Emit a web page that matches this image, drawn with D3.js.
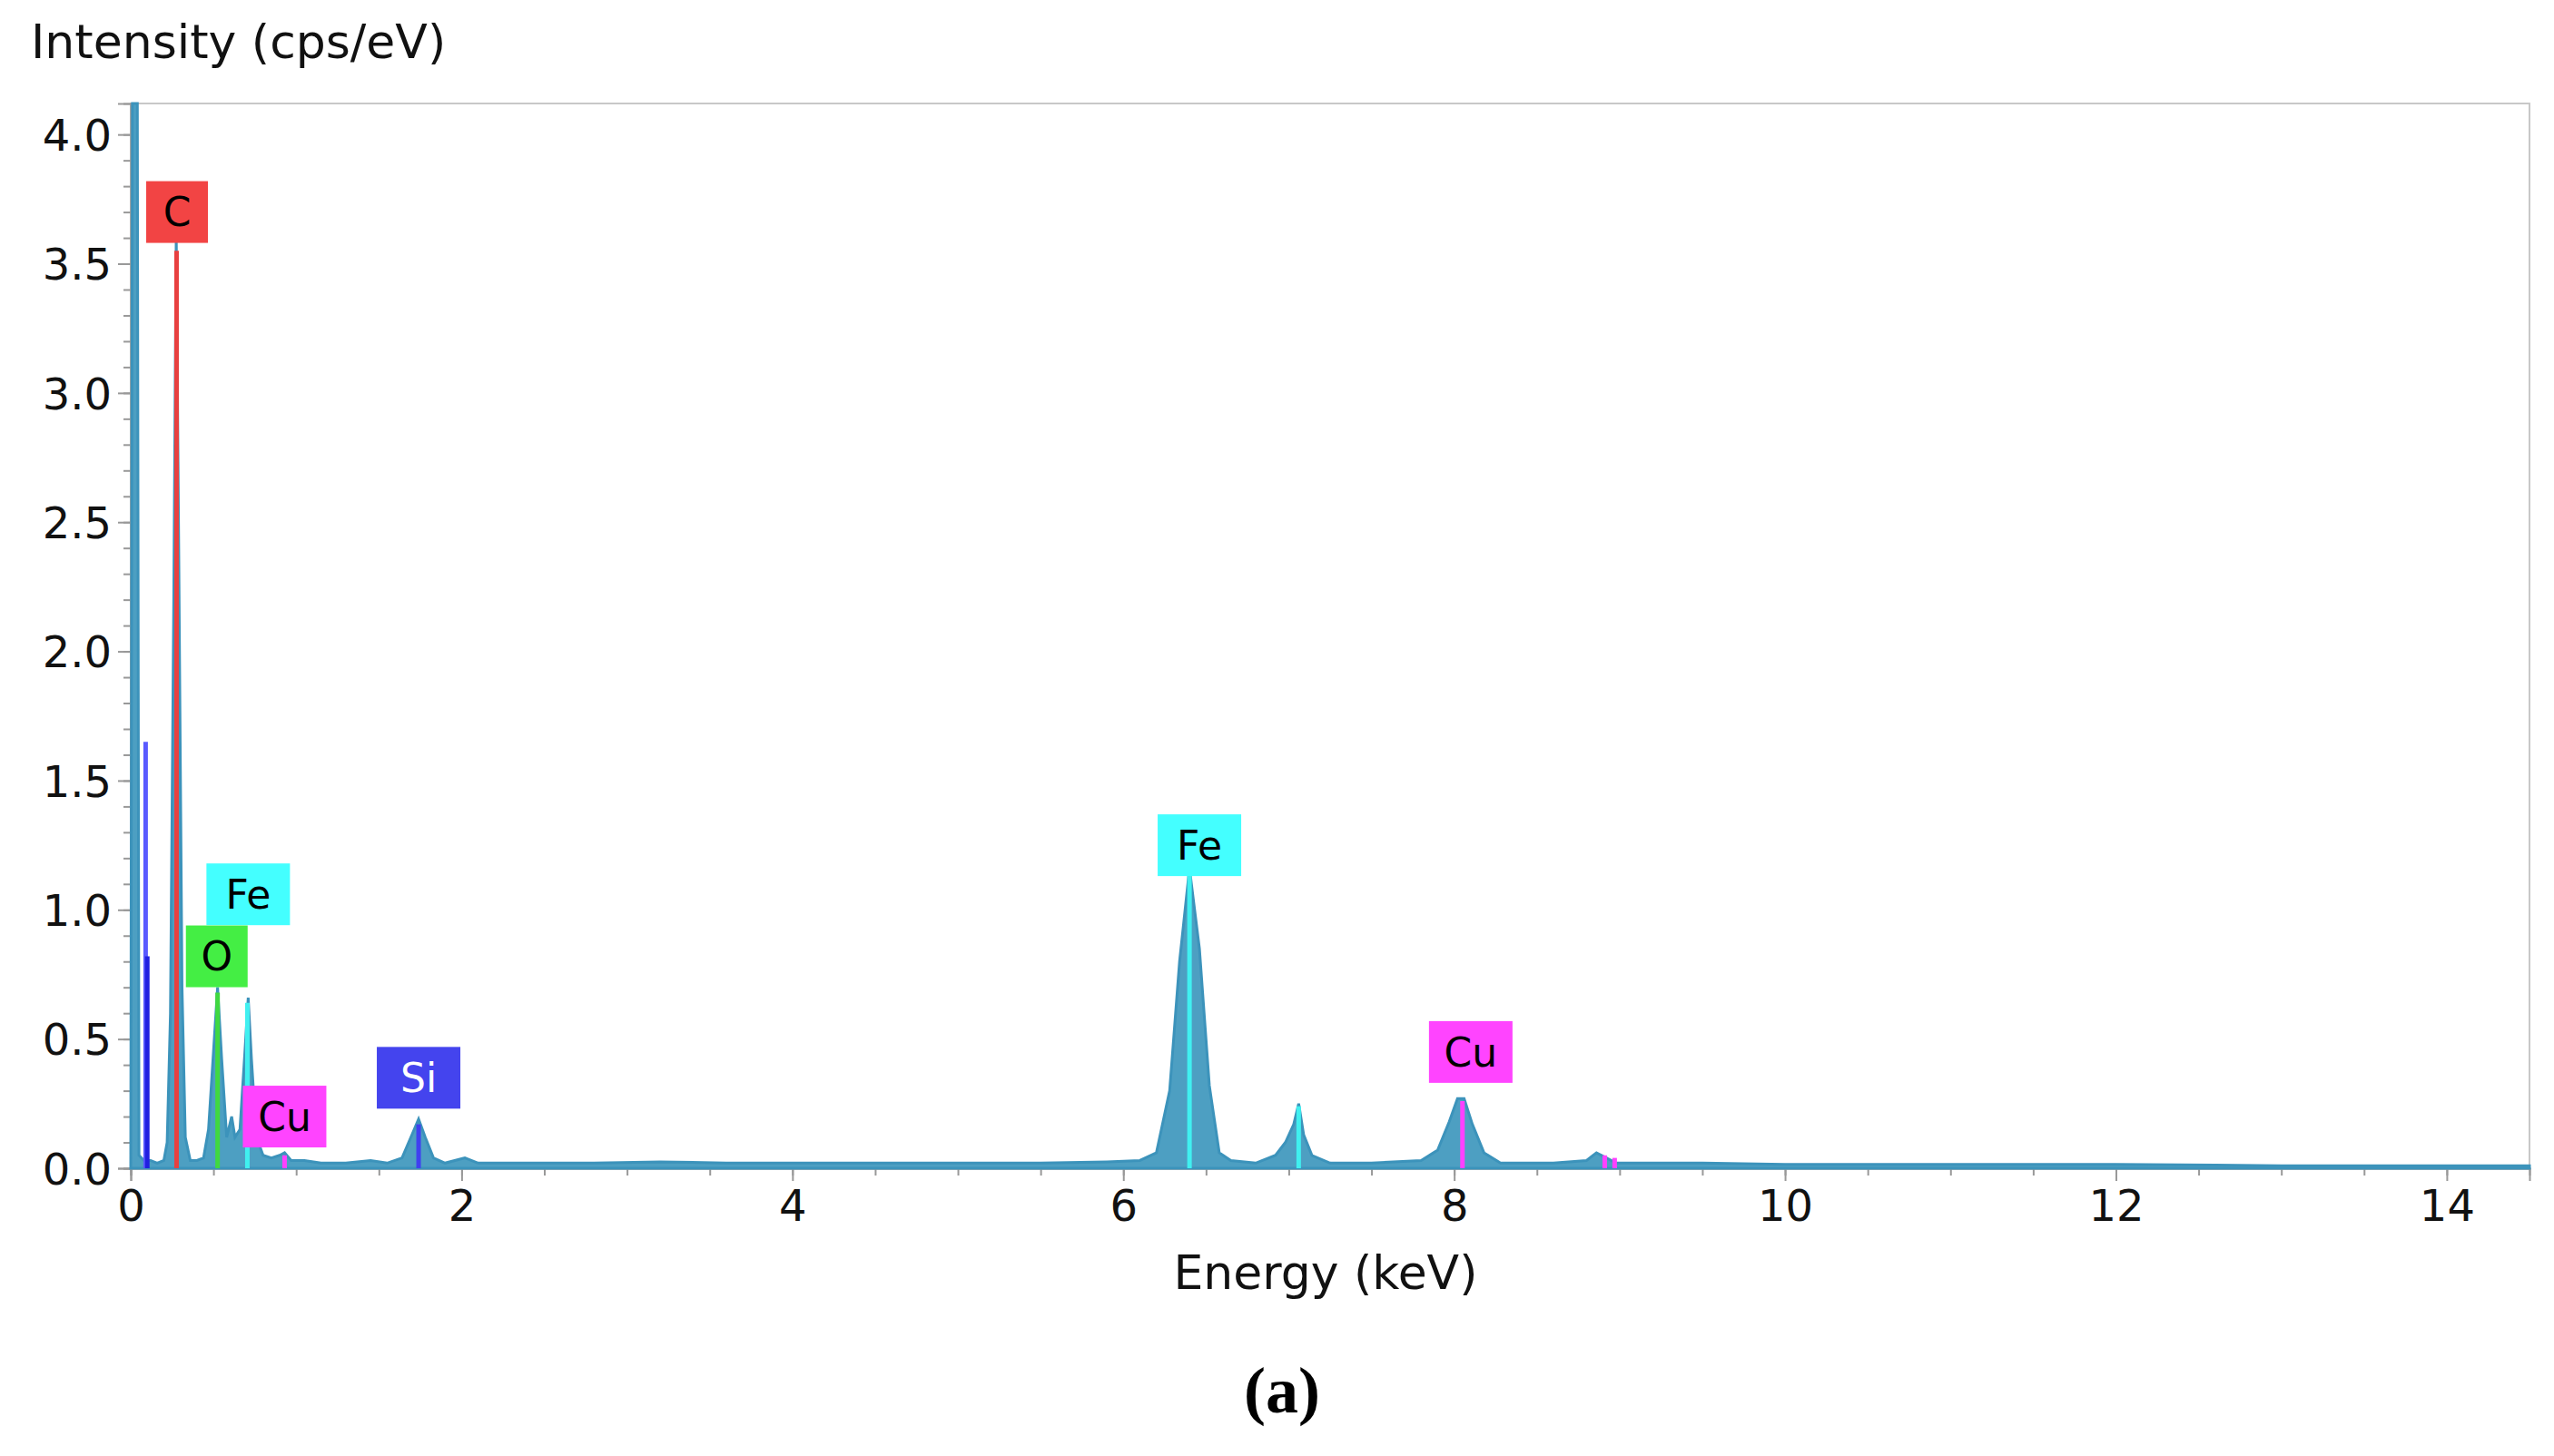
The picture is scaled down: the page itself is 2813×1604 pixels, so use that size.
<!DOCTYPE html>
<html><head><meta charset="utf-8">
<script src="https://cdn.jsdelivr.net/npm/d3@7"></script>
<style>body{margin:0;background:#fff}svg{display:block}</style>
</head><body>
<svg id="chart" width="2813" height="1604"></svg>
<script>
// spectrum points [energy keV, intensity cps/eV]
const spectrum = [
  [0.00,0],[0.01,4.12],[0.04,4.12],[0.05,0.05],[0.08,0.03],[0.12,0.03],[0.16,0.02],[0.20,0.03],
  [0.22,0.1],[0.24,0.6],[0.26,2.2],[0.275,3.62],[0.29,2.4],[0.31,0.7],[0.33,0.12],[0.36,0.03],
  [0.40,0.03],[0.44,0.04],[0.47,0.15],[0.50,0.45],[0.525,0.7],[0.55,0.42],[0.58,0.12],[0.61,0.2],
  [0.63,0.12],[0.66,0.15],[0.69,0.45],[0.71,0.66],[0.73,0.42],[0.76,0.12],[0.80,0.05],[0.85,0.04],
  [0.90,0.05],[0.93,0.06],[0.97,0.03],[1.05,0.03],[1.15,0.02],[1.30,0.02],[1.45,0.03],[1.55,0.02],
  [1.64,0.04],[1.70,0.13],[1.74,0.19],[1.78,0.12],[1.83,0.04],[1.90,0.02],[2.02,0.04],[2.10,0.02],
  [2.40,0.02],[2.80,0.02],[3.20,0.025],[3.60,0.02],[4.00,0.02],[4.50,0.02],[5.00,0.02],[5.50,0.02],
  [5.90,0.025],[6.10,0.03],[6.20,0.06],[6.28,0.3],[6.34,0.8],[6.40,1.16],[6.46,0.85],[6.52,0.32],
  [6.58,0.06],[6.65,0.03],[6.80,0.02],[6.92,0.05],[6.98,0.1],[7.03,0.17],[7.06,0.25],[7.09,0.13],
  [7.14,0.05],[7.25,0.02],[7.50,0.02],[7.80,0.03],[7.90,0.07],[7.97,0.18],[8.02,0.27],[8.06,0.27],
  [8.11,0.17],[8.18,0.06],[8.28,0.02],[8.60,0.02],[8.80,0.03],[8.86,0.06],[8.92,0.04],[8.98,0.02],
  [9.50,0.02],[10.0,0.015],[11.0,0.015],[12.0,0.015],[12.6,0.012],[13.0,0.01],[14.0,0.01],[14.5,0.01]
];
// element marker lines [element, energy, height, colour]
const markers = [
  ['Cu',0.09,1.65,'#5a5aff'],['Cu',0.10,0.82,'#2020e0'],
  ['C',0.277,3.55,'#e84040'],['O',0.525,0.68,'#40d840'],['Fe',0.705,0.64,'#40f0f0'],
  ['Cu',0.93,0.05,'#ff40ff'],['Si',1.74,0.17,'#4040f0'],['Fe',6.40,1.14,'#40f0f0'],
  ['Fe',7.06,0.24,'#40f0f0'],['Cu',8.05,0.26,'#ff40ff'],['Cu',8.91,0.05,'#ff40ff'],['Cu',8.97,0.04,'#ff40ff']
];
// label boxes [text, energy, intensity, fill, text colour]
const labels = [
  ['C',0.28,3.70,'#f24444','#000'],['Fe',0.71,1.06,'#44ffff','#000'],
  ['O',0.52,0.82,'#44ee44','#000'],['Cu',0.93,0.20,'#ff44ff','#000'],
  ['Si',1.74,0.35,'#4444ee','#fff'],['Fe',6.46,1.25,'#44ffff','#000'],
  ['Cu',8.10,0.45,'#ff44ff','#000']
];
const xTicks = [0,2,4,6,8,10,12,14];
const yTicks = [0,0.5,1,1.5,2,2.5,3,3.5,4];

const svg = d3.select('#chart');
const L = 144, R = 2786, T = 114, B = 1287;
const x = d3.scaleLinear().domain([0,14.5]).range([L,R]);
const y = d3.scaleLinear().domain([0,4.12]).range([B,T]);
const font = 'DejaVu Sans, sans-serif';

svg.append('rect').attr('x',L).attr('y',T).attr('width',R-L).attr('height',B-T)
  .attr('fill','none').attr('stroke','#c8c8c8').attr('stroke-width',2);

// minor ticks
svg.append('g').attr('transform',`translate(${L},0)`)
  .call(d3.axisLeft(y).tickValues(d3.range(0,41).map(d=>d/10)).tickSize(8).tickFormat(''))
  .call(g=>g.selectAll('line,path').attr('stroke','#999').attr('stroke-width',2));
svg.append('g').attr('transform',`translate(0,${B})`)
  .call(d3.axisBottom(x).tickValues(d3.range(0,29).map(d=>d/2)).tickSize(8).tickFormat(''))
  .call(g=>g.selectAll('line,path').attr('stroke','#999').attr('stroke-width',2));

const yAx = svg.append('g').attr('transform',`translate(${L},0)`)
  .call(d3.axisLeft(y).tickValues(yTicks).tickSize(14).tickFormat(d3.format('.1f')));
const xAx = svg.append('g').attr('transform',`translate(0,${B})`)
  .call(d3.axisBottom(x).tickValues(xTicks).tickSize(14).tickFormat(d3.format('d')));
[yAx,xAx].forEach(g=>{
  g.selectAll('line,path').attr('stroke','#999').attr('stroke-width',2);
  g.selectAll('text').attr('font-family',font).attr('font-size',48).attr('fill','#111');
});
yAx.selectAll('text').attr('dx',-4).attr('dy','0.36em');
xAx.selectAll('text').attr('dy','0.85em');

const area = d3.area().x(d=>x(d[0])).y0(B).y1(d=>y(d[1]));
svg.append('path').datum(spectrum).attr('d',area)
  .attr('fill','#4d9fc2').attr('stroke','#3c93bb').attr('stroke-width',3);

svg.selectAll('line.mk').data(markers).enter().append('line')
  .attr('x1',d=>x(d[1])).attr('x2',d=>x(d[1])).attr('y1',B).attr('y2',d=>y(d[2]))
  .attr('stroke',d=>d[3]).attr('stroke-width',5);

const lb = svg.selectAll('g.lb').data(labels).enter().append('g')
  .attr('transform',d=>`translate(${x(d[1])},${y(d[2])})`);
lb.append('rect').attr('x',d=>d[0].length>1?-46:-34).attr('width',d=>d[0].length>1?92:68)
  .attr('y',-34).attr('height',68).attr('fill',d=>d[3]);
lb.append('text').text(d=>d[0]).attr('text-anchor','middle').attr('dy','0.36em')
  .attr('font-family',font).attr('font-size',44).attr('fill',d=>d[4]);

svg.append('text').text('Intensity (cps/eV)').attr('x',34).attr('y',64)
  .attr('font-family',font).attr('font-size',52).attr('fill','#111');
svg.append('text').text('Energy (keV)').attr('x',1460).attr('y',1420).attr('text-anchor','middle')
  .attr('font-family',font).attr('font-size',52).attr('fill','#111');
svg.append('text').text('(a)').attr('x',1412).attr('y',1556).attr('text-anchor','middle')
  .attr('font-family','Liberation Serif, serif').attr('font-weight','bold').attr('font-size',72).attr('fill','#000');
</script>
</body></html>
